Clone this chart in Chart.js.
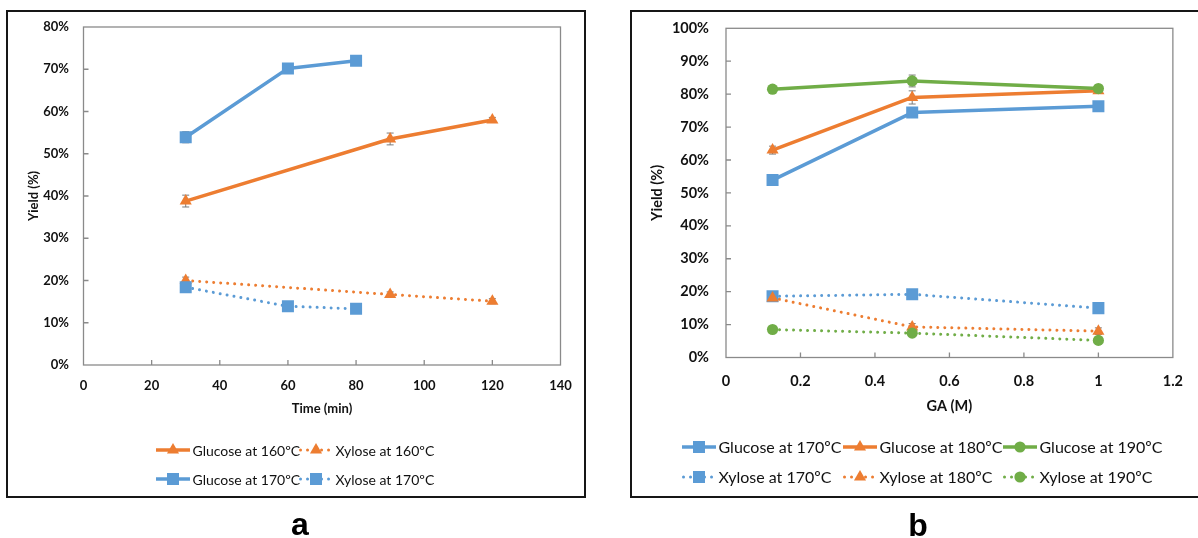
<!DOCTYPE html>
<html>
<head>
<meta charset="utf-8">
<script src="https://cdn.jsdelivr.net/npm/chart.js@4/dist/chart.umd.min.js"></script>
<style>
  html, body { margin: 0; padding: 0; background: #fff; }
  body { width: 1198px; height: 538px; position: relative; overflow: hidden; }
  .frame { position: absolute; border: 2px solid #161616; box-sizing: border-box; }
  .holder { position: absolute; top: 0; }
  .tag { position: absolute; font: bold 32px "Liberation Sans", Arial, sans-serif; color: #000;
         transform: translate(-50%, -50%); line-height: 1; }
</style>
</head>
<body>
<div class="frame" style="left:6px; top:10px; width:580px; height:488px;"></div>
<div class="frame" style="left:630px; top:10px; width:574px; height:488px;"></div>
<div class="holder" style="left:0;"><canvas id="chartA" width="600" height="538"></canvas></div>
<div class="holder" style="left:600px;"><canvas id="chartB" width="598" height="538"></canvas></div>
<div class="tag" style="left:300px; top:524px;">a</div>
<div class="tag" style="left:918px; top:525px;">b</div>

<script>
// ---- Panel a: sugar yield versus reaction time ----
const time160 = [30, 90, 120];
const glucose160 = [38.8, 53.5, 58.0];
const glucose160Err = [1.4, 1.4, 0.6];
const xylose160 = [20.0, 16.7, 15.1];
const xylose160Err = [0.8, 0.6, 0.6];

const time170 = [30, 60, 80];
const glucose170 = [53.9, 70.2, 72.0];
const glucose170Err = [1.3, 0.8, 0.6];
const xylose170 = [18.4, 13.9, 13.3];
const xylose170Err = [0.8, 0.6, 0.6];

// ---- Panel b: sugar yield versus glycolic acid concentration ----
const gaConc = [0.125, 0.5, 1];
const glucoseGA170 = [53.9, 74.4, 76.3];
const glucoseGA170Err = [0.8, 0.9, 0.8];
const glucoseGA180 = [63.0, 79.0, 81.0];
const glucoseGA180Err = [1.2, 2.0, 0.8];
const glucoseGA190 = [81.5, 84.0, 81.7];
const glucoseGA190Err = [0.6, 1.8, 0.8];
const xyloseGA170 = [18.6, 19.2, 15.0];
const xyloseGA170Err = [0.6, 0.6, 0.6];
const xyloseGA180 = [18.1, 9.3, 8.0];
const xyloseGA180Err = [0.6, 1.0, 1.0];
const xyloseGA190 = [8.5, 7.4, 5.2];
const xyloseGA190Err = [0.6, 0.6, 0.8];

// Axis ranges
const timeAxis = { min: 0, max: 140, step: 20 };
const yieldAxisA = { min: 0, max: 80, step: 10 };
const gaAxis = { min: 0, max: 1.2, step: 0.2 };
const yieldAxisB = { min: 0, max: 100, step: 10 };

const BLUE = '#5B9BD5', ORANGE = '#ED7D31', GREEN = '#70AD47';
const MARKER_R = { rect: 8.5, triangle: 7, circle: 5.6 };

const pairs = (xs, ys) => xs.map((x, i) => ({ x: x, y: ys[i] }));

function series(label, xs, ys, errs, color, marker, dotted, order) {
  return {
    label: label,
    data: pairs(xs, ys),
    errors: errs,
    borderColor: color,
    backgroundColor: color,
    pointBackgroundColor: color,
    pointBorderColor: color,
    pointBorderWidth: 0,
    pointStyle: marker,
    pointRadius: MARKER_R[marker],
    pointHoverRadius: MARKER_R[marker],
    borderWidth: dotted ? 3 : 3.5,
    borderDash: dotted ? [0.01, 7] : [],
    borderCapStyle: dotted ? 'round' : 'butt',
    borderJoinStyle: 'round',
    tension: 0,
    fill: false,
    order: order
  };
}

// Marker drawing that mirrors Chart.js point geometry (used for legend samples)
function drawMarker(ctx, style, r, x, y) {
  ctx.beginPath();
  if (style === 'rect') {
    const s = Math.SQRT1_2 * r;
    ctx.rect(x - s, y - s, 2 * s, 2 * s);
  } else if (style === 'triangle') {
    ctx.moveTo(x, y - r);
    ctx.lineTo(x + Math.sin(Math.PI * 2 / 3) * r, y - Math.cos(Math.PI * 2 / 3) * r);
    ctx.lineTo(x + Math.sin(Math.PI * 4 / 3) * r, y - Math.cos(Math.PI * 4 / 3) * r);
    ctx.closePath();
  } else {
    ctx.arc(x, y, r, 0, Math.PI * 2);
  }
  ctx.fill();
}

// Plot frame, inward tick marks, error bars and a two-row legend
const officeLook = {
  id: 'officeLook',
  beforeDatasetsDraw(chart) {
    const { ctx, chartArea: a } = chart;
    const xs = chart.scales.x, ys = chart.scales.y;
    ctx.save();
    ctx.strokeStyle = '#8a8a8a';
    ctx.lineWidth = 1.3;
    ctx.strokeRect(a.left, a.top, a.right - a.left, a.bottom - a.top);
    ctx.beginPath();
    xs.ticks.forEach(t => {
      const px = xs.getPixelForValue(t.value);
      if (px > a.left + 1 && px < a.right - 1) { ctx.moveTo(px, a.bottom); ctx.lineTo(px, a.bottom - 5); }
    });
    ys.ticks.forEach(t => {
      const py = ys.getPixelForValue(t.value);
      if (py > a.top + 1 && py < a.bottom - 1) { ctx.moveTo(a.left, py); ctx.lineTo(a.left + 5, py); }
    });
    ctx.stroke();

    ctx.strokeStyle = '#7a7a7a';
    ctx.lineWidth = 1;
    chart.data.datasets.forEach(ds => {
      ds.data.forEach((p, j) => {
        const e = ds.errors ? ds.errors[j] : 0;
        if (!e) return;
        const px = xs.getPixelForValue(p.x);
        const yHi = ys.getPixelForValue(p.y + e), yLo = ys.getPixelForValue(p.y - e);
        ctx.beginPath();
        ctx.moveTo(px, yHi); ctx.lineTo(px, yLo);
        ctx.moveTo(px - 3.5, yHi); ctx.lineTo(px + 3.5, yHi);
        ctx.moveTo(px - 3.5, yLo); ctx.lineTo(px + 3.5, yLo);
        ctx.stroke();
      });
    });
    ctx.restore();
  },
  afterDraw(chart, args, opts) {
    const { ctx } = chart;
    const n = opts.columns.length;
    chart.data.datasets.forEach((ds, i) => {
      const x0 = opts.columns[i % n];
      const y = opts.rows[Math.floor(i / n)];
      ctx.save();
      ctx.strokeStyle = ds.borderColor;
      ctx.lineWidth = ds.borderWidth;
      ctx.lineCap = ds.borderCapStyle;
      ctx.setLineDash(ds.borderDash);
      ctx.beginPath();
      ctx.moveTo(x0 + (ds.borderDash.length ? 1.5 : 0), y);
      ctx.lineTo(x0 + opts.sampleWidth, y);
      ctx.stroke();
      ctx.setLineDash([]);
      ctx.fillStyle = ds.borderColor;
      drawMarker(ctx, ds.pointStyle, ds.pointRadius, x0 + opts.sampleWidth / 2, y);
      ctx.fillStyle = '#111';
      ctx.font = opts.font;
      ctx.textAlign = 'left';
      ctx.textBaseline = 'middle';
      ctx.fillText(ds.label, x0 + opts.sampleWidth + opts.gap, y + 1);
      ctx.restore();
    });
  }
};

// Plain number labels: 1 instead of 1.0, 0.2 instead of 0.20
const plainNumber = v => String(Number(Number(v).toFixed(3)));

function buildOptions(cfg) {
  return {
    responsive: false,
    animation: false,
    events: [],
    layout: { padding: cfg.padding },
    plugins: {
      legend: { display: false },
      tooltip: { enabled: false },
      officeLook: cfg.legend
    },
    scales: {
      x: {
        type: 'linear',
        min: cfg.x.min, max: cfg.x.max,
        grid: { display: false, drawTicks: false },
        border: { display: false },
        ticks: { stepSize: cfg.x.step, color: '#111', padding: cfg.xTickPad,
                 font: { family: 'Lato', weight: 'bold', size: cfg.tickSize },
                 callback: plainNumber },
        title: { display: true, text: cfg.xTitle, color: '#111',
                 font: { family: 'Lato', weight: 'bold', size: cfg.titleSize },
                 padding: { top: 0, bottom: cfg.xTitlePad } },
        afterFit(scale) { scale.height = cfg.xHeight; }
      },
      y: {
        min: cfg.y.min, max: cfg.y.max,
        grid: { display: false, drawTicks: false },
        border: { display: false },
        ticks: { stepSize: cfg.y.step, color: '#111', padding: cfg.yTickPad,
                 font: { family: 'Lato', weight: 'bold', size: cfg.tickSize },
                 callback: v => plainNumber(v) + '%' },
        title: { display: true, text: 'Yield (%)', color: '#111',
                 font: { family: 'Lato', weight: 'bold', size: cfg.titleSize },
                 padding: { top: cfg.yTitlePad, bottom: 0 } },
        afterFit(scale) { scale.width = cfg.yWidth; }
      }
    }
  };
}

new Chart(document.getElementById('chartA'), {
  type: 'line',
  data: {
    datasets: [
      series('Glucose at 160ºC', time160, glucose160, glucose160Err, ORANGE, 'triangle', false, 4),
      series('Xylose at 160ºC', time160, xylose160, xylose160Err, ORANGE, 'triangle', true, 3),
      series('Glucose at 170ºC', time170, glucose170, glucose170Err, BLUE, 'rect', false, 2),
      series('Xylose at 170ºC', time170, xylose170, xylose170Err, BLUE, 'rect', true, 1)
    ]
  },
  options: buildOptions({
    padding: { left: 0, top: 27, right: 39.5, bottom: 0 },
    x: timeAxis, y: yieldAxisA,
    xTitle: 'Time (min)',
    tickSize: 13, titleSize: 13,
    xTickPad: 13, yTickPad: 14.5,
    xTitlePad: 121, yTitlePad: 26,
    xHeight: 173, yWidth: 83.5,
    legend: { columns: [156, 299], rows: [450, 479], sampleWidth: 34, gap: 2.5,
              font: '14px Lato' }
  }),
  plugins: [officeLook]
});

new Chart(document.getElementById('chartB'), {
  type: 'line',
  data: {
    datasets: [
      series('Glucose at 170ºC', gaConc, glucoseGA170, glucoseGA170Err, BLUE, 'rect', false, 6),
      series('Glucose at 180ºC', gaConc, glucoseGA180, glucoseGA180Err, ORANGE, 'triangle', false, 5),
      series('Glucose at 190ºC', gaConc, glucoseGA190, glucoseGA190Err, GREEN, 'circle', false, 4),
      series('Xylose at 170ºC', gaConc, xyloseGA170, xyloseGA170Err, BLUE, 'rect', true, 3),
      series('Xylose at 180ºC', gaConc, xyloseGA180, xyloseGA180Err, ORANGE, 'triangle', true, 2),
      series('Xylose at 190ºC', gaConc, xyloseGA190, xyloseGA190Err, GREEN, 'circle', true, 1)
    ]
  },
  options: buildOptions({
    padding: { left: 0, top: 28.3, right: 13, bottom: 0 },
    x: gaAxis, y: yieldAxisB,
    xTitle: 'GA (M)',
    tickSize: 14.5, titleSize: 14.5,
    xTickPad: 15, yTickPad: 17,
    xTitlePad: 122.5, yTitlePad: 48.5,
    xHeight: 180.5, yWidth: 126,
    legend: { columns: [82, 243, 403], rows: [447, 477], sampleWidth: 34, gap: 2.5,
              font: '16px Lato' }
  }),
  plugins: [officeLook]
});
</script>
</body>
</html>
